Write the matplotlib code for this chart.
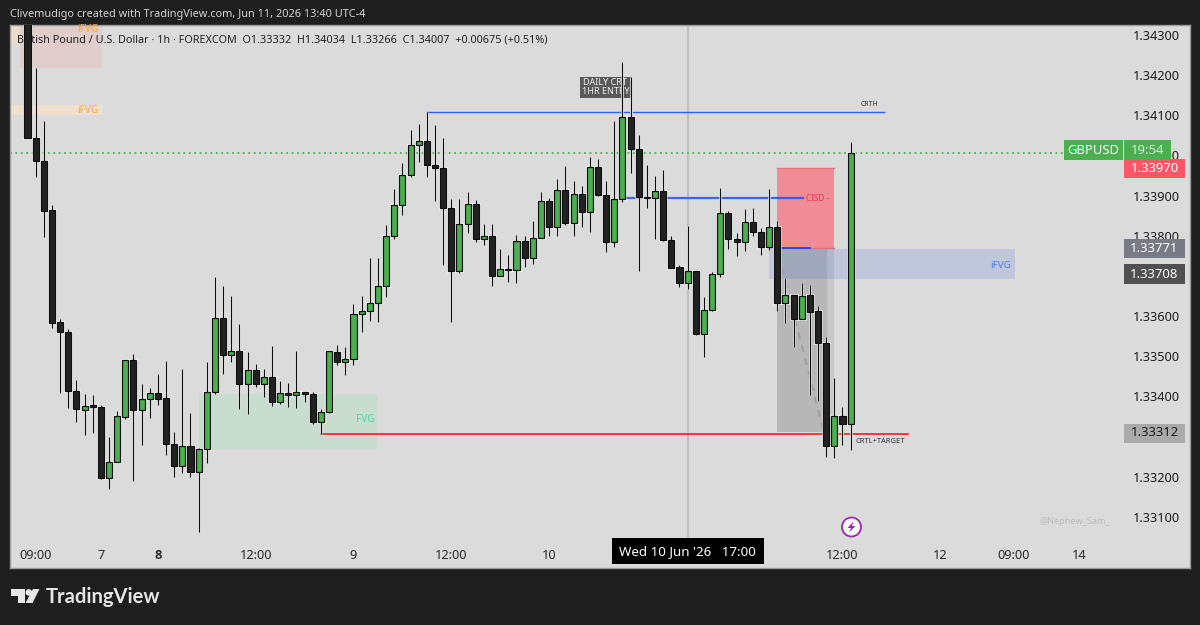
import matplotlib
matplotlib.use("Agg")
import matplotlib.pyplot as plt
from matplotlib.patches import Rectangle, Circle, Polygon

plt.rcParams['font.family'] = ['Noto Sans', 'DejaVu Sans']

# GBPUSD 1h candles
opens = [1.34362, 1.34044, 1.33986, 1.33864, 1.33585, 1.33560, 1.33414, 1.33366, 1.33379, 1.33374,
         1.33197, 1.33237, 1.33349, 1.33491, 1.33366, 1.33394, 1.33409, 1.33396, 1.33282, 1.33227,
         1.33277, 1.33212, 1.33269, 1.33411, 1.33595, 1.33503, 1.33513, 1.33431, 1.33466, 1.33431,
         1.33448, 1.33386, 1.33409, 1.33404, 1.33411, 1.33406, 1.33336, 1.33361, 1.33511, 1.33486,
         1.33493, 1.33605, 1.33613, 1.33633, 1.33675, 1.33800, 1.33877, 1.33951, 1.34026, 1.34036,
         1.33976, 1.33969, 1.33869, 1.33712, 1.33829, 1.33879, 1.33792, 1.33800, 1.33700, 1.33717,
         1.33715, 1.33787, 1.33745, 1.33795, 1.33887, 1.33822, 1.33914, 1.33832, 1.33904, 1.33859,
         1.33971, 1.33902, 1.33785, 1.33892, 1.34096, 1.34016, 1.33897, 1.33894, 1.33912, 1.33790,
         1.33722, 1.33682, 1.33712, 1.33555, 1.33615, 1.33705, 1.33857, 1.33792, 1.33785, 1.33834,
         1.33809, 1.33772, 1.33822, 1.33633, 1.33653, 1.33593, 1.33653, 1.33613, 1.33533, 1.33277,
         1.33351, 1.33332]
highs = [1.34400, 1.34218, 1.34086, 1.33877, 1.33593, 1.33568, 1.33441, 1.33406, 1.33404, 1.33379,
         1.33299, 1.33364, 1.33491, 1.33506, 1.33431, 1.33421, 1.33456, 1.33488, 1.33311, 1.33468,
         1.33359, 1.33272, 1.33486, 1.33697, 1.33675, 1.33650, 1.33580, 1.33511, 1.33481, 1.33468,
         1.33526, 1.33438, 1.33433, 1.33513, 1.33411, 1.33411, 1.33369, 1.33513, 1.33528, 1.33523,
         1.33630, 1.33650, 1.33745, 1.33745, 1.33827, 1.33917, 1.33981, 1.34063, 1.34078, 1.34108,
         1.34076, 1.34044, 1.33892, 1.33892, 1.33909, 1.33889, 1.33829, 1.33829, 1.33767, 1.33752,
         1.33802, 1.33800, 1.33837, 1.33909, 1.33894, 1.33941, 1.33974, 1.33936, 1.33924, 1.33996,
         1.33991, 1.33936, 1.34086, 1.34233, 1.34195, 1.34051, 1.33976, 1.33949, 1.33964, 1.33800,
         1.33727, 1.33824, 1.33712, 1.33648, 1.33710, 1.33919, 1.33862, 1.33807, 1.33867, 1.33869,
         1.33819, 1.33917, 1.33837, 1.33695, 1.33653, 1.33682, 1.33677, 1.33625, 1.33548, 1.33446,
         1.33374, 1.34034]
lows = [1.34044, 1.33946, 1.33797, 1.33570, 1.33409, 1.33371, 1.33336, 1.33304, 1.33309, 1.33194,
        1.33170, 1.33237, 1.33344, 1.33189, 1.33279, 1.33346, 1.33379, 1.33254, 1.33199, 1.33209,
        1.33199, 1.33062, 1.33234, 1.33406, 1.33456, 1.33486, 1.33369, 1.33356, 1.33424, 1.33399,
        1.33376, 1.33381, 1.33374, 1.33371, 1.33386, 1.33331, 1.33306, 1.33359, 1.33478, 1.33453,
        1.33478, 1.33560, 1.33588, 1.33585, 1.33648, 1.33792, 1.33852, 1.33946, 1.33984, 1.33946,
        1.33887, 1.33727, 1.33585, 1.33707, 1.33807, 1.33785, 1.33777, 1.33675, 1.33700, 1.33685,
        1.33682, 1.33722, 1.33730, 1.33795, 1.33800, 1.33800, 1.33827, 1.33800, 1.33822, 1.33809,
        1.33899, 1.33760, 1.33772, 1.33884, 1.33956, 1.33712, 1.33869, 1.33792, 1.33787, 1.33720,
        1.33672, 1.33667, 1.33553, 1.33498, 1.33613, 1.33697, 1.33767, 1.33750, 1.33762, 1.33800,
        1.33752, 1.33765, 1.33613, 1.33583, 1.33523, 1.33593, 1.33404, 1.33389, 1.33249, 1.33247,
        1.33279, 1.33266]
closes = [1.34044, 1.33986, 1.33862, 1.33583, 1.33560, 1.33414, 1.33369, 1.33376, 1.33374, 1.33197,
          1.33237, 1.33351, 1.33491, 1.33366, 1.33394, 1.33409, 1.33394, 1.33282, 1.33227, 1.33277,
          1.33212, 1.33269, 1.33411, 1.33595, 1.33503, 1.33513, 1.33431, 1.33466, 1.33431, 1.33448,
          1.33386, 1.33409, 1.33404, 1.33411, 1.33406, 1.33336, 1.33361, 1.33513, 1.33486, 1.33493,
          1.33605, 1.33613, 1.33633, 1.33675, 1.33800, 1.33877, 1.33951, 1.34026, 1.34036, 1.33976,
          1.33969, 1.33869, 1.33712, 1.33829, 1.33879, 1.33792, 1.33800, 1.33700, 1.33717, 1.33715,
          1.33787, 1.33745, 1.33795, 1.33887, 1.33822, 1.33914, 1.33832, 1.33904, 1.33859, 1.33971,
          1.33902, 1.33785, 1.33892, 1.34096, 1.34016, 1.33897, 1.33894, 1.33912, 1.33790, 1.33720,
          1.33682, 1.33712, 1.33555, 1.33615, 1.33705, 1.33857, 1.33792, 1.33785, 1.33834, 1.33809,
          1.33772, 1.33822, 1.33633, 1.33653, 1.33593, 1.33650, 1.33610, 1.33533, 1.33277, 1.33351,
          1.33331, 1.34007]

price_ticks = [1.343, 1.342, 1.341, 1.340, 1.339, 1.338, 1.336, 1.335, 1.334, 1.332, 1.331]
time_ticks = [1, 9, 16, 28, 40, 52, 64, 100, 112, 121, 129]
time_labels = ['09:00', '7', '8', '12:00', '9', '12:00', '10', '12:00', '12', '09:00', '14']

FRAME = '#1e1e1e'
PLOT_BG = '#dbdbdb'
GREEN = '#4caf50'
DARK = '#222222'
Y_MIN, Y_MAX = 1.329728, 1.343249

fig = plt.figure(figsize=(12, 6.25), dpi=100, facecolor=FRAME)
ax = fig.add_axes([10/1200, (625-568)/625, 1180/1200, 543/625], facecolor=PLOT_BG)
ax.set_xlim(-2.147, 142.64)
ax.set_ylim(Y_MIN, Y_MAX)
for s in ax.spines.values():
    s.set_color('#9a9a9a')
    s.set_linewidth(1)

# zones
def zone(i0, i1, p0, p1, color, z=1):
    ax.add_patch(Rectangle((i0, p0), i1-i0, p1-p0, facecolor=color, edgecolor='none', zorder=z))

zone(-2.2, 9.1, 1.34275, 1.3433, '#eadcc8')
zone(-0.92, 9.1, 1.34218, 1.3440, '#e2cdcd')
zone(-2.2, 9.1, 1.34101, 1.34126, '#eee0cd')
zone(21, 43.04, 1.33269, 1.33405, '#c8dcd0')
zone(92, 99, 1.33311, 1.33770, '#c8c8c8')
zone(92, 98.1, 1.33311, 1.33770, '#b7b7b7')
zone(92, 99, 1.33770, 1.33969, '#f08c96')
ax.plot([92, 99], [1.33969, 1.33969], color='#f26d7c', lw=1, zorder=1.1)
ax.plot([92, 99], [1.33770, 1.33770], color='#d9737f', lw=1, zorder=1.1)
zone(91, 121.2, 1.33692, 1.33766, (0.16, 0.32, 0.85, 0.14), 1.5)

# crosshair on the hovered candle
ax.axvline(81, ymin=(1.33047-Y_MIN)/(Y_MAX-Y_MIN), color='#bdbdbd', lw=1.3, zorder=1.6)
# last price
ax.plot([-2.2, 127.3], [closes[-1], closes[-1]], color='#45b34c', lw=1.3, ls=(0, (1, 2)), zorder=1.6)

# drawn levels
ax.plot([49, 105.1], [1.34108, 1.34108], color='#2962ff', lw=1, zorder=2)
ax.plot([73.3, 95.15], [1.33893, 1.33893], color='#2050f0', lw=1.6, alpha=0.85, zorder=2)
ax.plot([91, 96], [1.33770, 1.33770], color='#2050f0', lw=1.4, zorder=2)
ax.plot([36, 108], [1.33306, 1.33306], color='#ff1a1a', lw=1.2, zorder=2)
ax.plot([92.6, 97.7], [1.33720, 1.33311], color='#9a9aa4', lw=1.2, ls=(0, (4, 4)), zorder=2)

# candles: white halo first, then the wick and body
xs = list(range(len(opens)))
face = [GREEN if c >= o else DARK for o, c in zip(opens, closes)]
bottoms = [min(o, c) for o, c in zip(opens, closes)]
heights = [max(abs(c-o), 0.00003) for o, c in zip(opens, closes)]
ax.vlines(xs, lows, highs, color='white', lw=2.2, alpha=0.75, zorder=3)
ax.bar(xs, heights, bottom=bottoms, width=0.74, color='white', edgecolor='white', lw=2, alpha=0.75, zorder=3.1)
ax.vlines(xs, lows, highs, color='#0c0c0c', lw=0.9, zorder=3.2)
ax.bar(xs, heights, bottom=bottoms, width=0.74, color=face, edgecolor='#101010', lw=0.9, zorder=3.3)

# axis labels sit inside the chart
ax.yaxis.tick_right()
ax.set_yticks(price_ticks)
ax.set_yticklabels(['%.5f' % p for p in price_ticks], fontsize=9.2, color='#1a1a1a')
ax.tick_params(axis='y', length=0, pad=-41)
ax.set_xticks(time_ticks)
ax.set_xticklabels(time_labels, fontsize=9.2, color='#2a2a2a')
ax.tick_params(axis='x', length=0, pad=-14)
eight = ax.get_xticklabels()[2]
eight.set_fontfamily('Open Sans')
eight.set_fontweight('bold')

# chart notes
ax.text(103.3, 1.34128, 'CRTH', fontsize=5, color='#333333', ha='center', va='center', zorder=5)
ax.text(95.5, 1.33893, 'CISD -', fontsize=5.8, color='#ff3048', ha='left', va='center', zorder=5)
ax.text(104.6, 1.33287, 'CRTL+TARGET', fontsize=5.4, color='#333333', ha='center', va='center', zorder=5)
ax.text(119.4, 1.33727, 'iFVG', fontsize=7, color='#4d7df0', ha='center', va='center', zorder=5)
ax.text(41.4, 1.33343, 'FVG', fontsize=7.2, color='#3fe09a', ha='center', va='center', zorder=5)
ax.text(7.4, 1.34113, 'iFVG', fontsize=7.2, color='#ffa726', ha='center', va='center', zorder=5)
ax.text(70.9, 1.34170, 'DAILY CRT\n1HR ENTRY', fontsize=6.5, color='#eeeeee', ha='center', va='center',
        linespacing=0.95, zorder=2.5,
        bbox=dict(boxstyle='square,pad=0.2', facecolor='#5a5a5a', edgecolor='none'))

# overlay in pixel coordinates for the frame furniture
ov = fig.add_axes([0, 0, 1, 1], facecolor='none', zorder=10)
ov.set_xlim(0, 1200)
ov.set_ylim(625, 0)
ov.axis('off')

ov.text(10, 14, 'Clivemudigo created with TradingView.com, Jun 11, 2026 13:40 UTC-4', fontsize=7.9,
        color='#d2d2d2', va='center')
ov.text(17, 39.5, 'British Pound / U.S. Dollar · 1h · FOREXCOM  O1.33332  H1.34034  L1.33266  C1.34007  +0.00675 (+0.51%)',
        fontsize=7.8, color='#222222', va='center')
# upper iFVG label, mostly cut off by the chart's top edge
top_label = ov.text(88, 29, 'iFVG', fontsize=7.2, color='#ffa726', ha='center', va='center')
top_label.set_clip_path(Rectangle((10, 23), 92, 6, transform=ov.transData))
ov.text(1075, 521, '@Nephew_Sam_', fontsize=6.6, color='#bcbcbc', ha='center', va='center')


def badge(x0, x1, y0, y1, color, text, tcolor='white'):
    ov.add_patch(Rectangle((x0, y0), x1-x0, y1-y0, facecolor=color, edgecolor='none'))
    ov.text((x0+x1)/2, (y0+y1)/2, text, fontsize=9.4, color=tcolor, ha='center', va='center')


badge(1124, 1185, 158.5, 178, '#ff5566', '1.33970')
badge(1064, 1123, 140, 160, GREEN, 'GBPUSD')
badge(1124, 1171, 140, 160, GREEN, '19:54', '#d4ecd5')
badge(1124, 1185, 239, 258, '#787b86', '1.33771')
badge(1124, 1185, 264, 284, '#505050', '1.33708')
badge(1124, 1185, 423.5, 442.5, '#aaaaaa', '1.33312', '#1c1c1c')
ov.add_patch(Rectangle((612, 538), 152, 26, facecolor='black', edgecolor='none'))
ov.text(687.5, 552, "Wed 10 Jun '26   17:00", fontsize=9.6, color='white', ha='center', va='center')

# replay marker
ov.add_patch(Circle((851.5, 527), 9.5, facecolor='white', edgecolor='#9c27b0', lw=1.3))
ov.add_patch(Polygon([(853.5, 521.5), (847.5, 528), (851, 528), (849, 532.5), (855.5, 526), (852, 526)],
                     facecolor='#9c27b0', edgecolor='none'))

# TradingView logo
ov.add_patch(Polygon([(11, 589), (25, 589), (25, 603), (18, 603), (18, 596), (11, 596)], facecolor='#e6e6e6',
                     edgecolor='none'))
ov.add_patch(Circle((28.8, 592.4), 3.3, facecolor='#e6e6e6', edgecolor='none'))
ov.add_patch(Polygon([(33, 589), (39.5, 589), (32.5, 603), (25.5, 603)], facecolor='#e6e6e6', edgecolor='none'))
ov.text(46, 597, 'TradingView', fontsize=14.5, fontfamily='Lato', fontweight='bold', color='#e6e6e6', va='center')

fig.savefig('out.png', dpi=100, facecolor=FRAME)
